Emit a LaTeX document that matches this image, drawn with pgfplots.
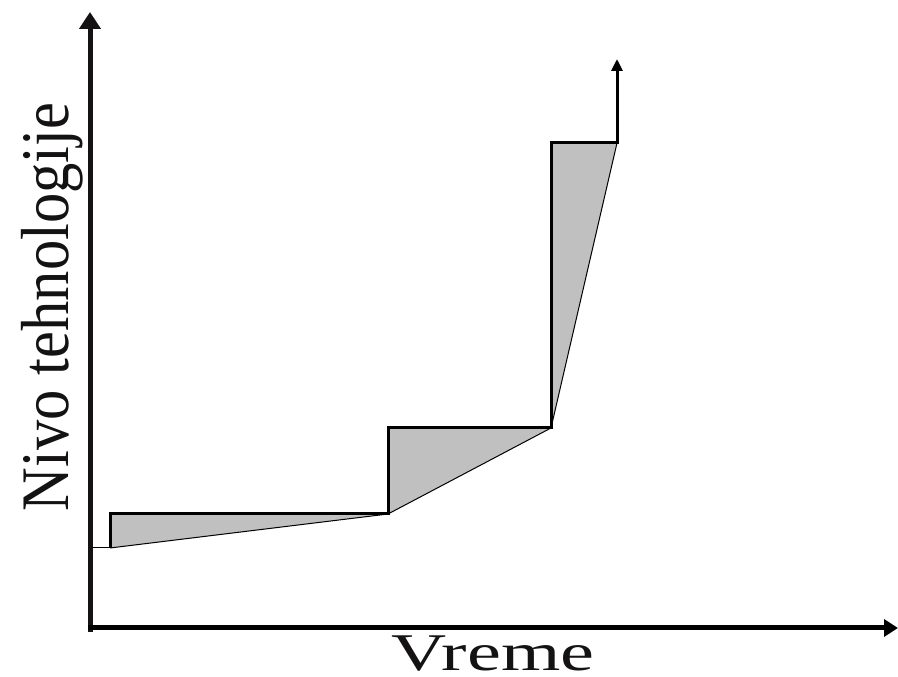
\documentclass[border=0pt]{standalone}
\usepackage{pgfplots}
\pgfplotsset{compat=1.18}
\usetikzlibrary{arrows.meta}
\usepackage{fontspec}
\setmainfont{Liberation Serif}
\definecolor{fillgray}{RGB}{192,192,192}
\definecolor{ink}{RGB}{20,18,18}
\begin{document}
\begin{tikzpicture}
\begin{axis}[
  width=898pt, height=677pt, scale only axis,
  xmin=0, xmax=898, ymin=0, ymax=677,
  hide axis, clip=false,
]
% gray areas
\addplot[fill=fillgray, draw=none, mark=none] coordinates {(110,129) (110,163) (388,163)} -- cycle;
\addplot[fill=fillgray, draw=none, mark=none] coordinates {(388,163) (388,249) (551,249)} -- cycle;
\addplot[fill=fillgray, draw=none, mark=none] coordinates {(551,249) (551,534) (617,534)} -- cycle;
% thin diagonal
\addplot[black, line width=1pt, mark=none] coordinates {(110,129) (388,163) (551,249) (617,534)};
% thin lead-in line
\addplot[black, line width=1pt, mark=none] coordinates {(90,129) (110,129)};
% thick staircase with arrow
\addplot[black, line width=3pt, mark=none, line join=miter, -{Triangle[length=12pt,width=11pt]}] coordinates {(110,129) (110,163) (388,163) (388,249) (551,249) (551,534) (617,534) (617,618)};
% axes
\addplot[ink, line width=5pt, mark=none, -{Triangle[length=17pt,width=21pt]}] coordinates {(90,45) (90,665)};
\addplot[black, line width=5pt, mark=none, -{Triangle[length=14pt,width=17pt]}] coordinates {(88,49) (898,49)};
% labels
\node[rotate=90, anchor=base, text=ink, inner sep=0pt] at (axis cs:68,370) {\scalebox{0.89}[1]{\fontsize{68}{68}\selectfont Nivo tehnologije}};
\node[anchor=base, text=ink, inner sep=0pt] at (axis cs:493,6) {\scalebox{1.44}[1]{\fontsize{53}{53}\selectfont Vreme}};
\end{axis}
\pgfresetboundingbox
\useasboundingbox (0,0) rectangle (898pt,677pt);
\end{tikzpicture}
\end{document}
